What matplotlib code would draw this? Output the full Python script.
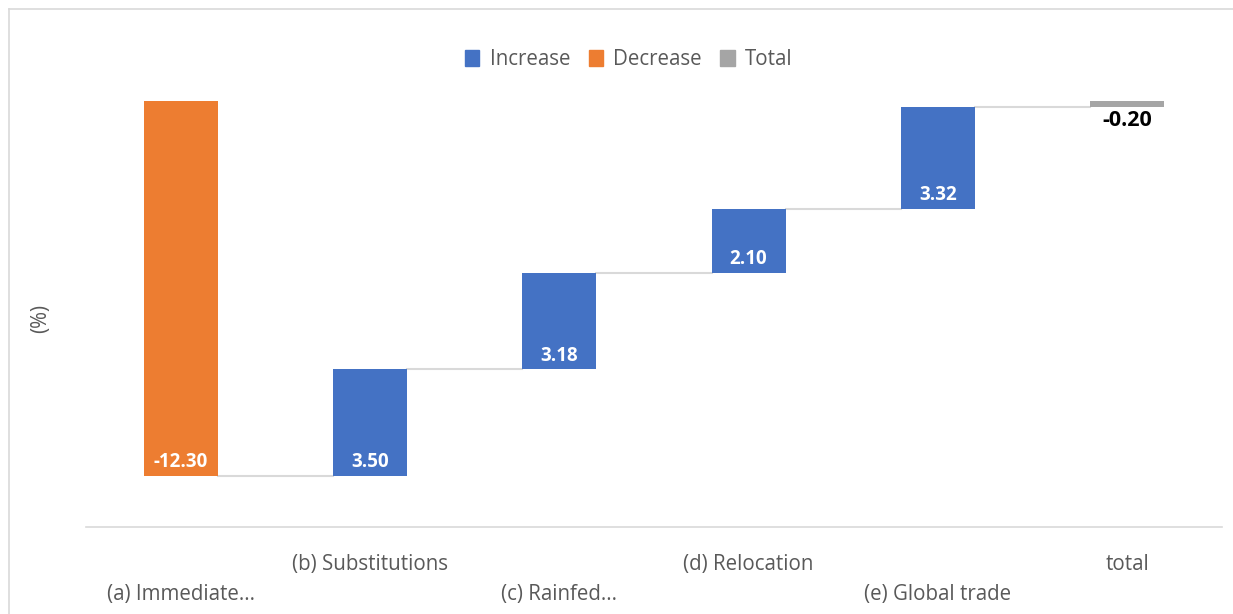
import matplotlib.pyplot as plt
from matplotlib.lines import Line2D
from matplotlib.patches import Patch

plt.rcParams['font.family'] = ['Open Sans', 'DejaVu Sans']

categories = ['(a) Immediate...', '(b) Substitutions', '(c) Rainfed...',
              '(d) Relocation', '(e) Global trade', 'total']
changes = [-12.30, 3.50, 3.18, 2.10, 3.32]
total = -0.20
labels = ['-12.30', '3.50', '3.18', '2.10', '3.32', '-0.20']

BLUE = '#4472C4'
ORANGE = '#ED7D31'
GRAY = '#A5A5A5'
TXT = '#595959'


def create_plot():
    fig = plt.figure(figsize=(12.33, 6.14), dpi=100)
    ax = fig.add_axes([0.0697, 0.1417, 0.9213, 0.7133])

    x = list(range(len(categories)))
    width = 0.39
    bottoms = []
    heights = []
    colors = []
    level = 0.0
    for v in changes:
        bottoms.append(level)
        heights.append(v)
        colors.append(BLUE if v >= 0 else ORANGE)
        level += v
    bottoms.append(0.0)
    heights.append(total)
    colors.append(GRAY)

    ax.bar(x, heights, bottom=bottoms, width=width, color=colors, zorder=3)

    # connector lines
    level = 0.0
    for i, v in enumerate(changes):
        level += v
        ax.plot([i + width / 2, i + 1 - width / 2], [level, level],
                color='#D9D9D9', lw=1.5, zorder=2)

    # data labels
    for i, v in enumerate(changes):
        lo = min(bottoms[i], bottoms[i] + v)
        ax.text(i, lo + 0.12, labels[i], ha='center', va='bottom',
                color='white', fontsize=13.5, fontweight='bold', zorder=4)
    ax.text(len(changes), total - 0.08, labels[-1], ha='center', va='top',
            color='black', fontsize=15.5, fontweight='bold', zorder=4)

    ax.set_xlim(-0.5, len(categories) - 0.5)
    ax.set_ylim(-13.97, 0.4)
    ax.set_yticks([])
    ax.set_xticks([])
    for s in ['top', 'right', 'left']:
        ax.spines[s].set_visible(False)
    ax.spines['bottom'].set_color('#D9D9D9')
    ax.spines['bottom'].set_linewidth(1.2)

    # staggered category labels
    for i, name in enumerate(categories):
        y = -0.0845 if i % 2 == 1 else -0.153
        ax.text(i, y, name, transform=ax.get_xaxis_transform(), ha='center',
                va='center', color=TXT, fontsize=14.8)

    fig.text(0.033, 0.482, '(%)', rotation=90, ha='center', va='center',
             color=TXT, fontsize=14.8)

    handles = [Patch(color=BLUE), Patch(color=ORANGE), Patch(color=GRAY)]
    fig.legend(handles, ['Increase', 'Decrease', 'Total'], loc='center',
               bbox_to_anchor=(0.51, 0.903), ncol=3, frameon=False,
               fontsize=14.8, labelcolor=TXT, handlelength=0.7,
               handleheight=0.85, handletextpad=0.5, columnspacing=0.9)

    # chart area border
    fig.add_artist(Line2D([9 / 1233, 9 / 1233], [0, 1 - 9 / 614],
                          color='#D9D9D9', lw=1.2))
    fig.add_artist(Line2D([9 / 1233, 1], [1 - 9 / 614, 1 - 9 / 614],
                          color='#D9D9D9', lw=1.2))

    fig.savefig('out.png', dpi=100, facecolor='white')
    return fig


if __name__ == '__main__':
    create_plot()
